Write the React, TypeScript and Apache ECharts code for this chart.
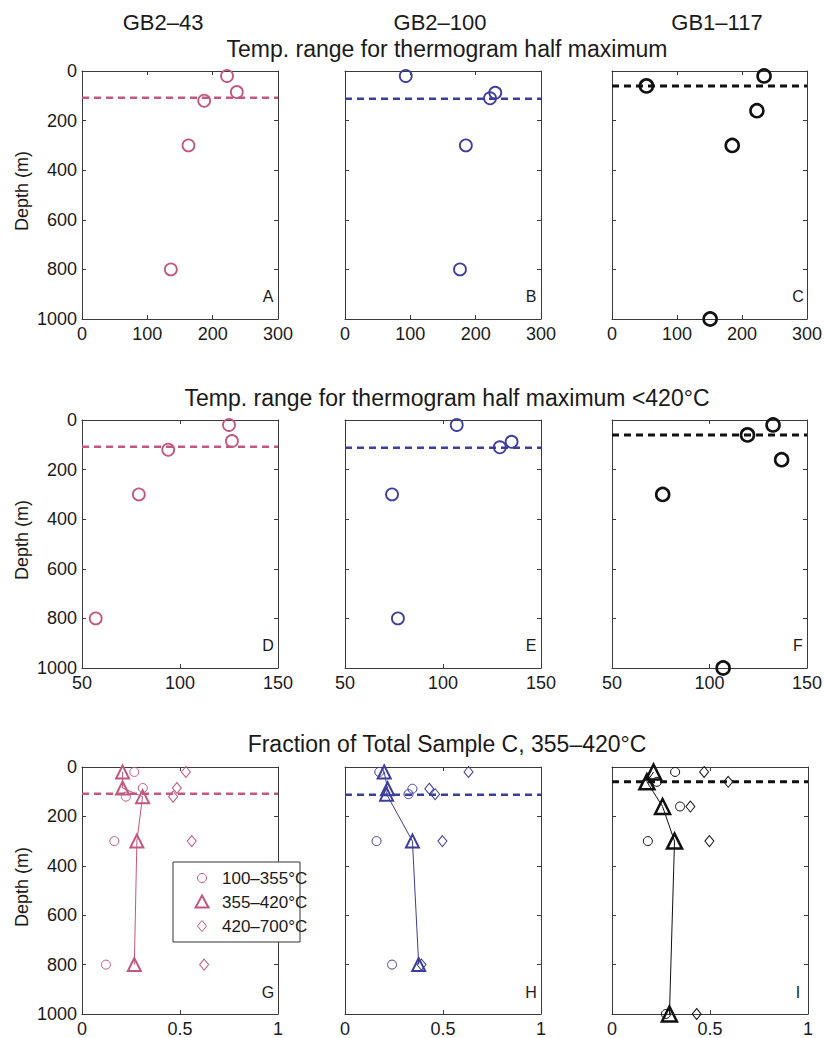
import React, { useEffect, useRef } from "react";
import * as echarts from "echarts";

// ---- data ----
const sampleNames = ["GB2–43", "GB2–100", "GB1–117"];
const depthsGB243 = [20, 85, 120, 300, 800];
const depthsGB2100 = [20, 88, 110, 300, 800];
const depthsGB1117 = [20, 60, 160, 300, 1000];
const surfaceDepths = [108, 112, 60];

const halfMaxGB243 = [222, 237, 187, 163, 136];
const halfMaxGB2100 = [93, 230, 222, 185, 176];
const halfMaxGB1117 = [234, 53, 223, 185, 151];

const halfMax420GB243 = [125, 126.5, 94, 79, 57];
const halfMax420GB2100 = [107, 135, 129, 74, 77];
const halfMax420GB1117 = [132.6, 119.5, 137, 76, 107];

const frac100GB243 = [0.267, 0.31, 0.224, 0.165, 0.122];
const frac355GB243 = [0.207, 0.207, 0.309, 0.28, 0.267];
const frac420GB243 = [0.53, 0.484, 0.465, 0.56, 0.623];
const frac100GB2100 = [0.175, 0.344, 0.324, 0.161, 0.24];
const frac355GB2100 = [0.2, 0.217, 0.212, 0.344, 0.376];
const frac420GB2100 = [0.63, 0.43, 0.46, 0.497, 0.39];
const frac100GB1117 = [0.322, 0.229, 0.347, 0.183, 0.275];
const frac355GB1117 = [0.212, 0.178, 0.258, 0.319, 0.293];
const frac420GB1117 = [0.47, 0.593, 0.4, 0.497, 0.432];

const rowTitles = [
  "Temp. range for thermogram half maximum",
  "Temp. range for thermogram half maximum <420°C",
  "Fraction of Total Sample C, 355–420°C",
];
const rowXRanges = [
  [0, 300, 100],
  [50, 150, 50],
  [0, 1, 0.5],
];
const depthTicks = [0, 1000, 200];
const panelLetters = ["A", "B", "C", "D", "E", "F", "G", "H", "I"];
const legendLabels = ["100–355°C", "355–420°C", "420–700°C"];

// ---- style / layout ----
const PINK = "#c2587f";
const BLUE = "#3d3d9c";
const BLACK = "#111111";
const colColors = [PINK, BLUE, BLACK];
const FONT = "'Liberation Sans', Arial, Helvetica, sans-serif";
const TXT = "#1a1a1a";
const AX = "#3a3a3a";
const lefts = [82, 345, 612];
const tops = [71, 420, 767];
const W = 196;
const H = 248;

const zip = (xs: number[], ys: number[]) => xs.map((x, i) => [x, ys[i]]);
const fmt = (v: number) => String(v);

export default function App() {
  const ref = useRef<HTMLDivElement>(null);
  useEffect(() => {
    if (!ref.current) return;
    const chart = echarts.init(ref.current, undefined, { renderer: "svg" });

    const depths = [depthsGB243, depthsGB2100, depthsGB1117];
    const half = [halfMaxGB243, halfMaxGB2100, halfMaxGB1117];
    const half420 = [halfMax420GB243, halfMax420GB2100, halfMax420GB1117];
    const f100 = [frac100GB243, frac100GB2100, frac100GB1117];
    const f355 = [frac355GB243, frac355GB2100, frac355GB1117];
    const f420 = [frac420GB243, frac420GB2100, frac420GB1117];

    const grid: any[] = [];
    const xAxis: any[] = [];
    const yAxis: any[] = [];
    const series: any[] = [];
    const graphic: any[] = [];

    for (let r = 0; r < 3; r++) {
      for (let c = 0; c < 3; c++) {
        const gi = r * 3 + c;
        const [xmin, xmax, xint] = rowXRanges[r];
        const col = colColors[c];
        const bold = c === 2;
        grid.push({ left: lefts[c], top: tops[r], width: W, height: H });
        const axLine = { show: true, onZero: false, lineStyle: { color: AX, width: 1 } };
        const tick = { show: true, inside: true, length: 4, lineStyle: { color: AX } };
        xAxis.push({
          type: "value", gridIndex: gi, position: "bottom", min: xmin, max: xmax, interval: xint,
          axisLine: axLine, axisTick: tick, splitLine: { show: false },
          axisLabel: { show: true, fontSize: 18, margin: 6, color: TXT, fontFamily: FONT, formatter: fmt },
        });
        xAxis.push({
          type: "value", gridIndex: gi, position: "top", min: xmin, max: xmax, interval: xint,
          axisLine: axLine, axisTick: tick, splitLine: { show: false }, axisLabel: { show: false },
        });
        yAxis.push({
          type: "value", gridIndex: gi, position: "left", inverse: true,
          min: depthTicks[0], max: depthTicks[1], interval: depthTicks[2],
          axisLine: axLine, axisTick: tick, splitLine: { show: false },
          axisLabel: { show: c === 0, fontSize: 18, margin: 5, color: TXT, fontFamily: FONT, formatter: fmt },
        });
        yAxis.push({
          type: "value", gridIndex: gi, position: "right", inverse: true,
          min: depthTicks[0], max: depthTicks[1], interval: depthTicks[2],
          axisLine: axLine, axisTick: tick, splitLine: { show: false }, axisLabel: { show: false },
        });
        const xi = gi * 2;
        const yi = gi * 2;
        // surface dashed line
        series.push({
          type: "line", xAxisIndex: xi, yAxisIndex: yi, silent: true, symbol: "none",
          data: [[xmin, surfaceDepths[c]], [xmax, surfaceDepths[c]]],
          lineStyle: { color: col, width: bold ? 3 : 2.5, type: [7, 5] },
          z: 1,
        });
        if (r < 2) {
          const vals = r === 0 ? half[c] : half420[c];
          series.push({
            type: "scatter", xAxisIndex: xi, yAxisIndex: yi, clip: false,
            data: zip(vals, depths[c]), symbol: "circle", symbolSize: bold ? 13 : 12,
            itemStyle: { color: "rgba(0,0,0,0)", borderColor: col, borderWidth: bold ? 2.6 : 1.8, opacity: 1 },
            z: 3,
          });
        } else {
          series.push({
            name: legendLabels[0],
            type: "scatter", xAxisIndex: xi, yAxisIndex: yi, clip: false,
            data: zip(f100[c], depths[c]), symbol: "circle", symbolSize: 9,
            itemStyle: { color: "rgba(0,0,0,0)", borderColor: col, borderWidth: 1, opacity: 1 },
            z: 3,
          });
          series.push({
            name: legendLabels[2],
            type: "scatter", xAxisIndex: xi, yAxisIndex: yi, clip: false,
            data: zip(f420[c], depths[c]), symbol: "diamond", symbolSize: [9, 11],
            itemStyle: { color: "rgba(0,0,0,0)", borderColor: col, borderWidth: 1, opacity: 1 },
            z: 3,
          });
          series.push({
            name: legendLabels[1],
            type: "line", xAxisIndex: xi, yAxisIndex: yi, clip: false,
            data: zip(f355[c], depths[c]), symbol: "triangle", symbolSize: bold ? 15 : 13,
            showSymbol: true,
            lineStyle: { color: col, width: 1 },
            itemStyle: { color: "rgba(0,0,0,0)", borderColor: col, borderWidth: bold ? 2.5 : 2, opacity: 1 },
            z: 4,
          });
        }
        graphic.push({
          type: "text", x: lefts[c] + W - 10, y: tops[r] + H - 23,
          style: { text: panelLetters[gi], font: `16px ${FONT}`, fill: TXT, align: "center", verticalAlign: "middle" },
        });
      }
      graphic.push({
        type: "text", x: 447, y: [49, 398, 744][r],
        style: { text: rowTitles[r], font: `23px ${FONT}`, fill: TXT, align: "center", verticalAlign: "middle" },
      });
      graphic.push({
        type: "text", x: 22, y: tops[r] + H / 2 - 4, rotation: Math.PI / 2,
        style: { text: "Depth (m)", font: `18px ${FONT}`, fill: TXT, align: "center", verticalAlign: "middle" },
      });
    }
    [163, 440, 717].forEach((x, i) => {
      graphic.push({
        type: "text", x, y: 22,
        style: { text: sampleNames[i], font: `22px ${FONT}`, fill: TXT, align: "center", verticalAlign: "middle" },
      });
    });
    // legend
    const lx = 202;
    const ly = [878, 902, 926];
    graphic.push({
      type: "group", z: 100,
      children: [
        { type: "rect", z: 100, shape: { x: 173, y: 862, width: 127, height: 80 }, style: { fill: "#fff", stroke: "#333", lineWidth: 1 } },
        { type: "circle", z: 101, shape: { cx: lx, cy: ly[0], r: 4.5 }, style: { fill: "none", stroke: PINK, lineWidth: 1 } },
        { type: "polygon", z: 101, shape: { points: [[lx, ly[1] - 6.5], [lx + 6.5, ly[1] + 5.5], [lx - 6.5, ly[1] + 5.5]] }, style: { fill: "none", stroke: PINK, lineWidth: 2 } },
        { type: "polygon", z: 101, shape: { points: [[lx, ly[2] - 5.5], [lx + 4.5, ly[2]], [lx, ly[2] + 5.5], [lx - 4.5, ly[2]]] }, style: { fill: "none", stroke: PINK, lineWidth: 1 } },
        ...legendLabels.map((t, i) => ({
          type: "text", z: 101, x: 222, y: ly[i],
          style: { text: t, font: `17px ${FONT}`, fill: TXT, align: "left", verticalAlign: "middle" },
        })),
      ],
    });

    chart.setOption({
      animation: false,
      backgroundColor: "#fff",
      textStyle: { fontFamily: FONT },
      grid, xAxis, yAxis, series, graphic,
    });
    return () => chart.dispose();
  }, []);
  return (
    <div
      ref={ref}
      style={{ position: "absolute", left: 0, top: 0, width: 825, height: 1038, background: "#fff" }}
    />
  );
}
